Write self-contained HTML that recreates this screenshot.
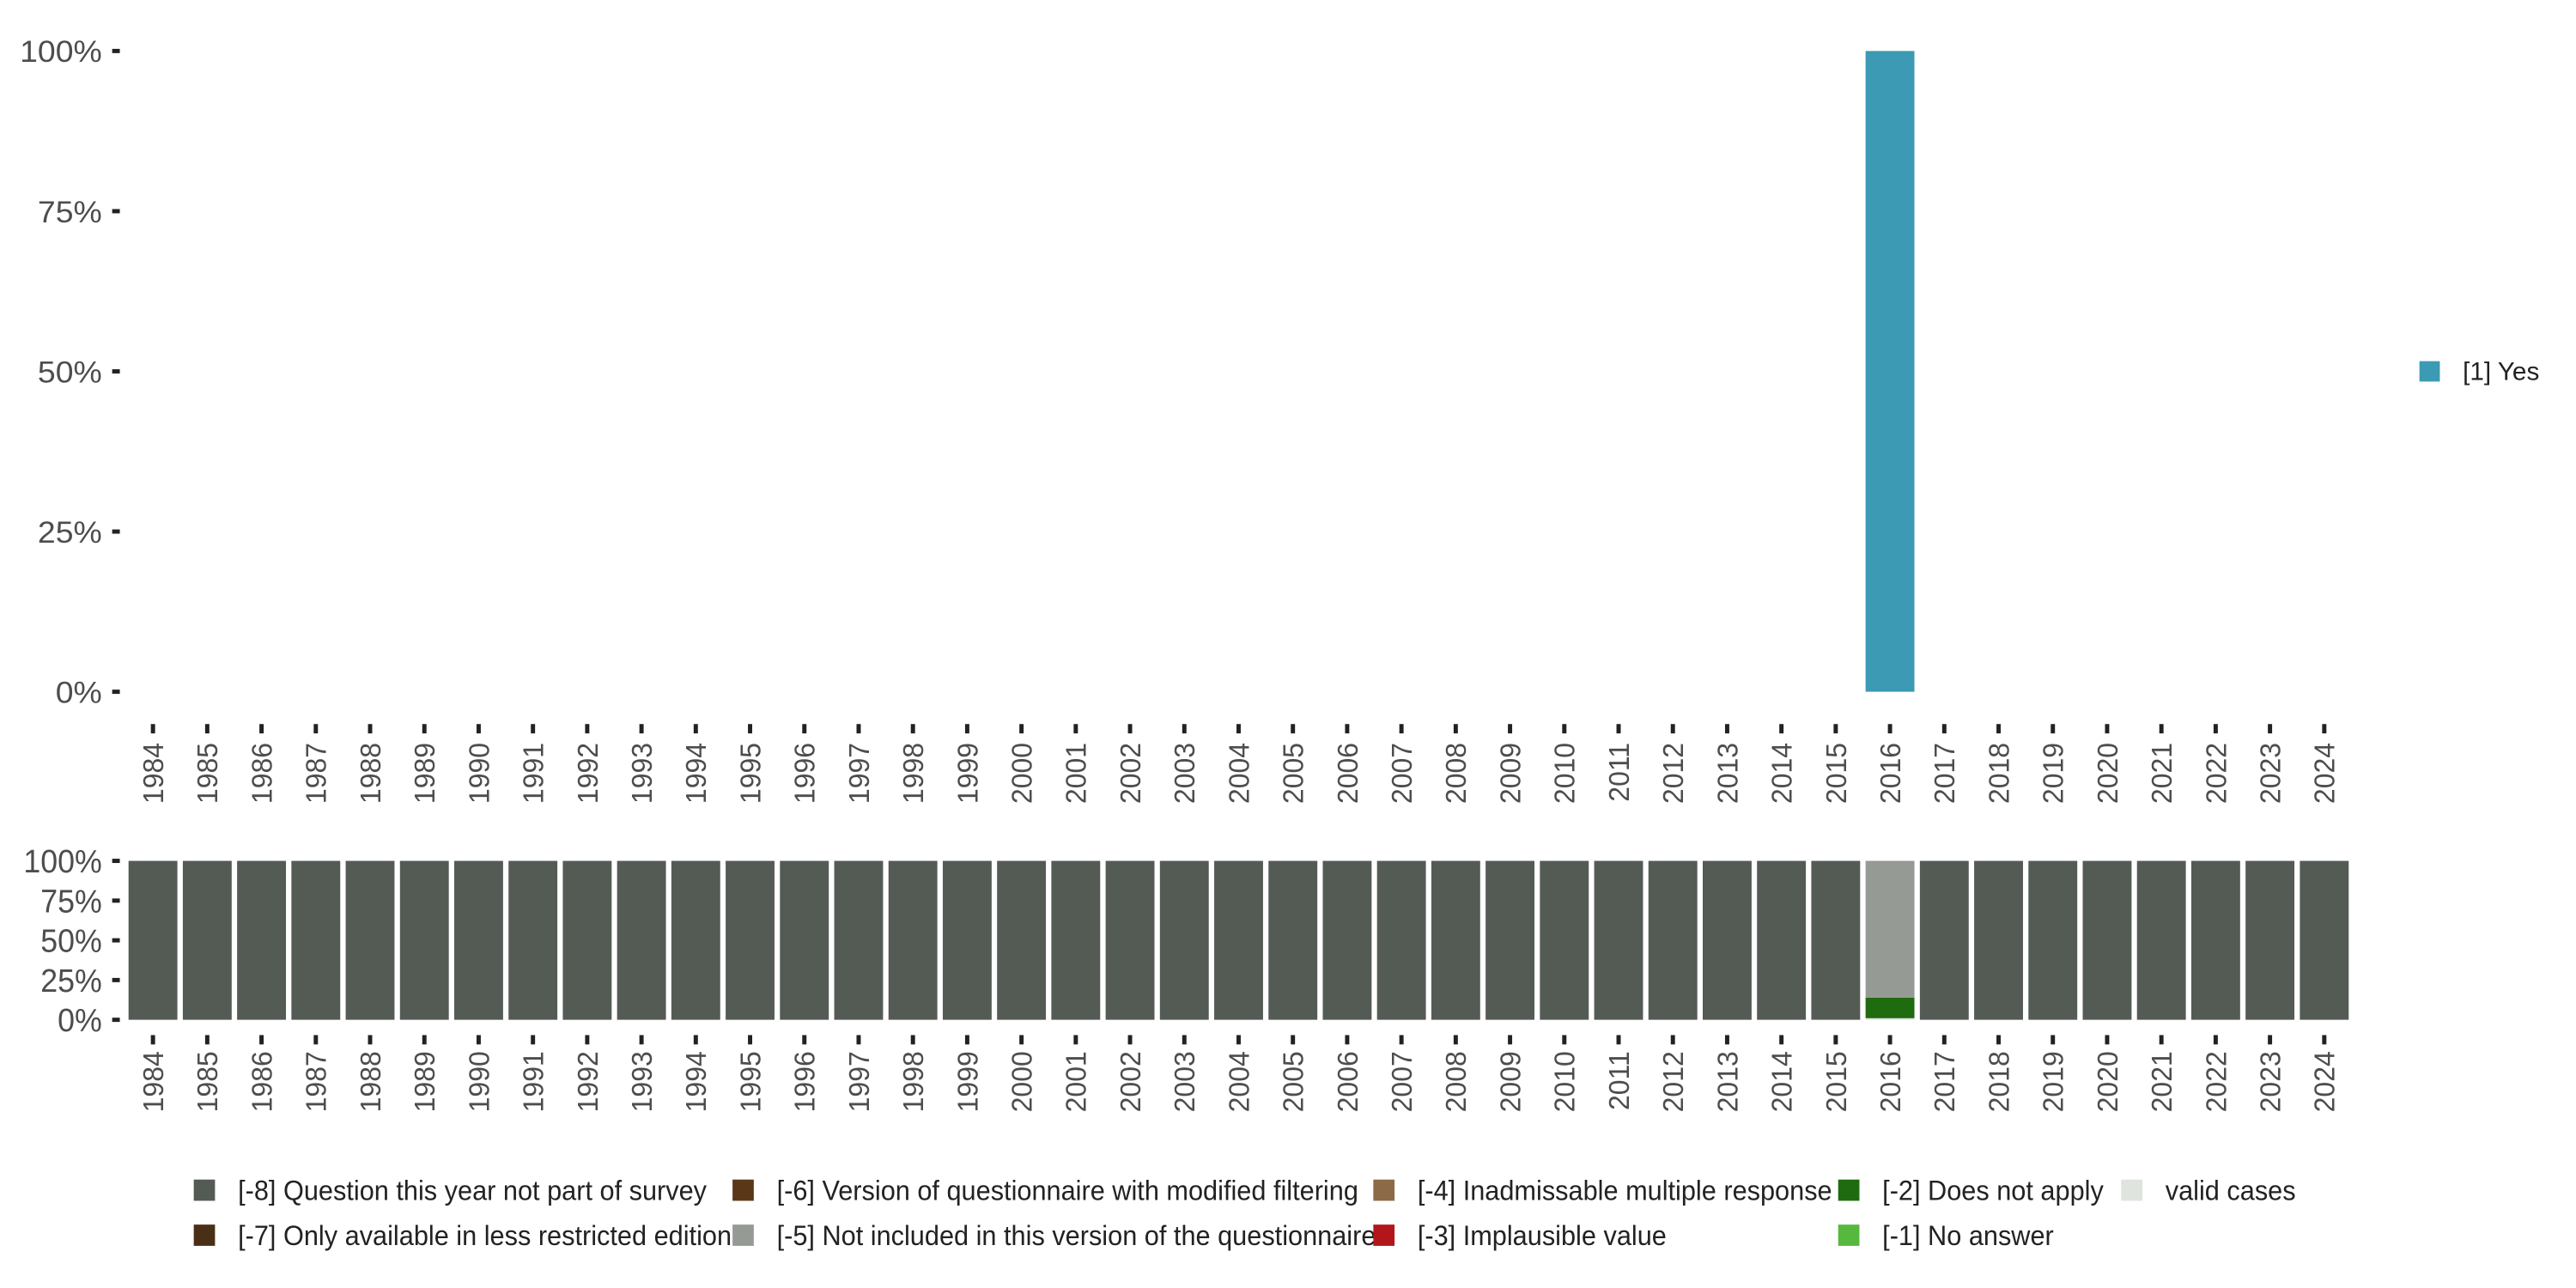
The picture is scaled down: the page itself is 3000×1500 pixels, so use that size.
<!DOCTYPE html>
<html><head><meta charset="utf-8"><style>
html,body{margin:0;padding:0;background:#fff;}
svg{display:block;font-family:"Liberation Sans",sans-serif;}
</style></head><body>
<svg id="chart" width="3000" height="1500" viewBox="0 0 3000 1500" xmlns="http://www.w3.org/2000/svg">
<g transform="scale(0.9897)">
<g id="topPlot"></g>
<g id="bottomPlot"></g>
<g id="legendG"></g>
</g>
</svg>
<script>
const years = [];
for (let y = 1984; y <= 2024; y++) years.push(String(y));
const yesValues = years.map(y => y === '2016' ? 100 : 0);
const yTicks = [0, 25, 50, 75, 100];
const yTickLabels = ['0%', '25%', '50%', '75%', '100%'];
const missingCategories = ['valid cases','[-1] No answer','[-2] Does not apply','[-3] Implausible value','[-4] Inadmissable multiple response','[-5] Not included in this version of the questionnaire','[-6] Version of questionnaire with modified filtering','[-7] Only available in less restricted edition','[-8] Question this year not part of survey'];
const missingColors = ['#dfe4df','#57b840','#1f6b10','#b2161a','#8d6a47','#969a94','#5a3817','#4a2f17','#545b55'];
const validShare = years.map(y => y === '2016' ? 1 : 0);
const noAnswerShare = years.map(y => 0);
const notApplyShare = years.map(y => y === '2016' ? 13 : 0);
const implausibleShare = years.map(y => 0);
const inadmissShare = years.map(y => 0);
const notIncludedShare = years.map(y => y === '2016' ? 86 : 0);
const modFilterShare = years.map(y => 0);
const restrictedShare = years.map(y => 0);
const notSurveyShare = years.map(y => y === '2016' ? 0 : 100);
const missingSeries = [validShare,noAnswerShare,notApplyShare,implausibleShare,inadmissShare,notIncludedShare,modFilterShare,restrictedShare,notSurveyShare];

const SVGNS = 'http://www.w3.org/2000/svg';
function mk(tag, attrs, parent, text) {
  const e = document.createElementNS(SVGNS, tag);
  for (const k in attrs) e.setAttribute(k, attrs[k]);
  if (text !== undefined) e.textContent = text;
  parent.appendChild(e);
  return e;
}
const bandW = (2735 - 180) / 40;
function xC(i) { return 180 + i * bandW; }
const barW = bandW * 0.9;

function drawAxes(g, y0, y1, tickY, labelY, fs, sx) {
  const yS = v => y0 + (y1 - y0) * v / 100;
  yTicks.forEach((t, i) => {
    const tk = mk('rect', {x: 132, y: yS(t) - 2.5, width: 9, height: 5, fill: '#222'}, g);
    
    
    const lb = mk('text', {x: 0, y: 0, 'text-anchor': 'end', 'font-size': fs, fill: '#4d4d4d',
      transform: `translate(120 ${yS(t) + fs * 0.36}) scale(${sx} 1)`}, g, yTickLabels[i]);
    
    
  });
  years.forEach((yr, i) => {
    const tk = mk('rect', {x: xC(i) - 2.5, y: tickY, width: 5, height: 11, fill: '#222'}, g);
    
    
    const lb = mk('text', {x: 0, y: 0, 'text-anchor': 'end', 'font-size': 34, fill: '#4d4d4d',
      transform: `translate(${xC(i) + 12} ${labelY}) rotate(-90) scale(0.95 1)`}, g, yr);
    
    
  });
  return yS;
}

const topG = document.getElementById('topPlot');
const yT = drawAxes(topG, 814, 60, 852, 874, 36, 1.05);
years.forEach((yr, i) => {
  if (yesValues[i] <= 0) return;
  const r = mk('rect', {x: xC(i) - barW / 2, y: yT(yesValues[i]), width: barW, height: yT(0) - yT(yesValues[i]), fill: '#3c9ab4'}, topG);
  
  
});

const botG = document.getElementById('bottomPlot');
const yB = drawAxes(botG, 1200, 1013, 1218, 1237, 38, 0.95);
years.forEach((yr, i) => {
  let acc = 0;
  missingSeries.forEach((s, k) => {
    const v = s[i];
    if (v <= 0) return;
    const r = mk('rect', {x: xC(i) - barW / 2, y: yB(acc + v), width: barW, height: yB(acc) - yB(acc + v), fill: missingColors[k]}, botG);
    
    
    acc += v;
  });
});

const lgG = document.getElementById('legendG');
const ly = mk('rect', {x: 2847, y: 425, width: 24, height: 24, fill: '#3c9ab4'}, lgG);


const lyt = mk('text', {x: 2898, y: 447, 'font-size': 30, fill: '#222'}, lgG, '[1] Yes');



const legendLayout = [[8,228,1401],[7,228,1454],[6,862,1401],[5,862,1454],[4,1616,1401],[3,1616,1454],[2,2163,1401],[1,2163,1454],[0,2496,1401]];
legendLayout.forEach(([k, x, y]) => {
  const sw = mk('rect', {x: x, y: y - 13, width: 25, height: 25, fill: missingColors[k]}, lgG);
  
  
  const t = mk('text', {x: 0, y: 0, 'font-size': 33, fill: '#222', transform: `translate(${x + 52} ${y + 11}) scale(0.94 1)`}, lgG, missingCategories[k]);
  
  
});
</script>
</body></html>
